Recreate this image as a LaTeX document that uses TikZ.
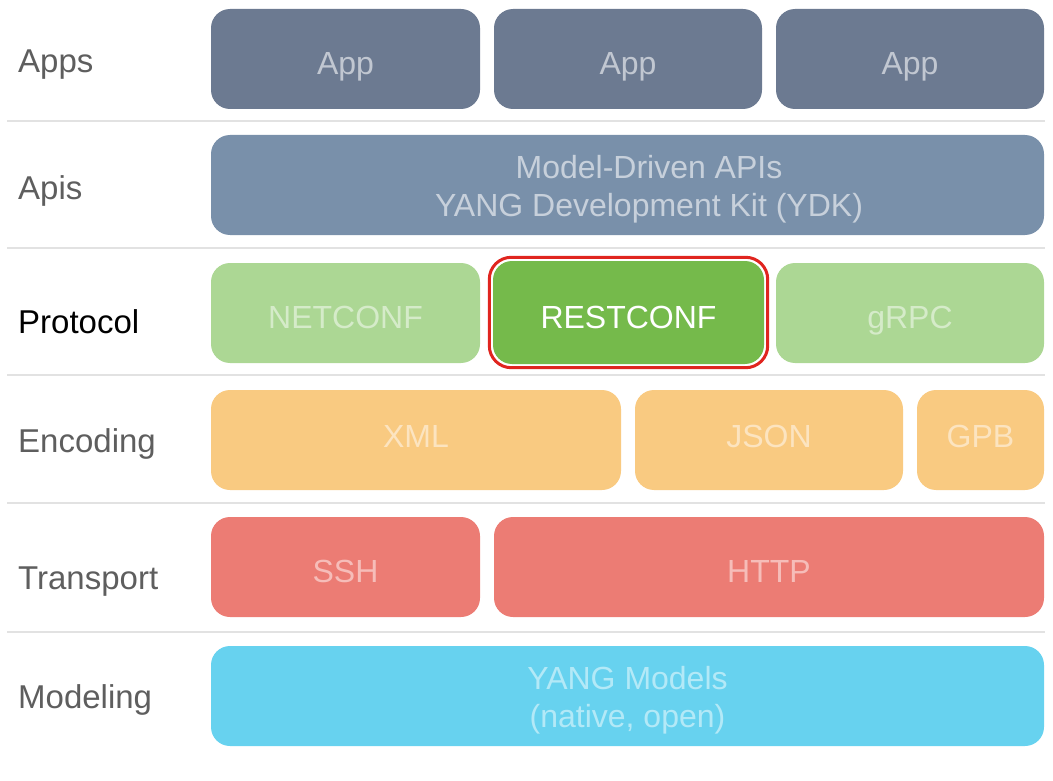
\documentclass[tikz,border=0pt]{standalone}
\usepackage{fontspec}
\setmainfont{Liberation Sans}
\usetikzlibrary{calc,fit}
\definecolor{cApp}{HTML}{6C7A91}
\definecolor{cApi}{HTML}{7990AA}
\definecolor{cProt}{HTML}{ACD794}
\definecolor{cRest}{HTML}{75BA4B}
\definecolor{cEnc}{HTML}{F9CA81}
\definecolor{cTrans}{HTML}{EC7C74}
\definecolor{cModel}{HTML}{67D2EF}
\definecolor{cSep}{HTML}{E2E2E2}
\definecolor{cLabel}{HTML}{5E5E5E}
\definecolor{cHi}{HTML}{E0251F}
\begin{document}
\begin{tikzpicture}[x=1pt,y=-1pt,
  box/.style={rounded corners=19pt, inner sep=0pt, minimum height=100pt,
    font=\fontsize{32}{38}\selectfont, align=center},
  one/.style={text height=#1, text depth=0pt},
  boxtext/.style={inner sep=0pt, font=\fontsize{32}{38}\selectfont, align=center},
  rowlabel/.style={anchor=base west, inner sep=0pt, text=cLabel,
    font=\fontsize{33}{38}\selectfont},
  sepline/.style={draw=cSep, line width=2pt},
  hilite/.style={draw=cHi, line width=3pt, rounded corners=22pt, inner sep=3.5pt}
]
\useasboundingbox (0,0) rectangle (1053,781);

% separators
\draw[sepline] (7,121) -- (1045,121);
\draw[sepline] (7,248) -- (1045,248);
\draw[sepline] (7,375) -- (1045,375);
\draw[sepline] (7,503) -- (1045,503);
\draw[sepline] (7,632) -- (1045,632);

% row labels
\node[rowlabel] (lApps) at (18,73) {Apps};
\node[rowlabel] (lApis) at (18,200) {Apis};
\node[rowlabel, text=black] (lProt) at (18,333) {Protocol};
\node[rowlabel] (lEnc) at (18,452) {Encoding};
\node[rowlabel] (lTrans) at (18,589) {Transport};
\node[rowlabel] (lModel) at (18,708) {Modeling};

% Apps
\node[box, one=32pt, fill=cApp, text=cApp!42!white, minimum width=269pt] (app1) at (345.5,59) {App};
\node[box, one=32pt, fill=cApp, text=cApp!42!white, minimum width=268pt] (app2) at (628,59) {App};
\node[box, one=32pt, fill=cApp, text=cApp!42!white, minimum width=268pt] (app3) at (910,59) {App};

% Apis
\node[box, fill=cApi, minimum width=833pt] (apis) at (627.5,185) {};
\node[boxtext, text=cApi!42!white] (apisText) at (649,185)
  {\rule{0pt}{31pt}Model-Driven APIs\\YANG Development Kit (YDK)};

% Protocol
\node[box, one=31pt, fill=cProt, text=cProt!50!white, minimum width=269pt] (netconf) at (345.5,313) {NETCONF};
\node[box, one=31pt, fill=cRest, text=white, minimum width=271pt, minimum height=103pt] (rest) at (628.5,312.5) {RESTCONF};
\node[box, one=31pt, fill=cProt, text=cProt!50!white, minimum width=268pt] (grpc) at (910,313) {gRPC};
\node[hilite, fit=(rest)] (hl) {};

% Encoding
\node[box, one=15pt, fill=cEnc, text=cEnc!50!white, minimum width=410pt] (xml) at (416,440) {XML};
\node[box, one=15pt, fill=cEnc, text=cEnc!50!white, minimum width=268pt] (json) at (769,440) {JSON};
\node[box, one=15pt, fill=cEnc, text=cEnc!50!white, minimum width=127pt] (gpb) at (980.5,440) {GPB};

% Transport
\node[box, one=30pt, fill=cTrans, text=cTrans!50!white, minimum width=269pt] (ssh) at (345.5,567) {SSH};
\node[box, one=30pt, fill=cTrans, text=cTrans!50!white, minimum width=550pt] (http) at (769,567) {HTTP};

% Modeling
\node[box, fill=cModel, text=cModel!50!white, minimum width=833pt] (yang) at (627.5,696)
  {\rule{0pt}{31pt}YANG Models\\(native, open)};
\end{tikzpicture}
\end{document}
